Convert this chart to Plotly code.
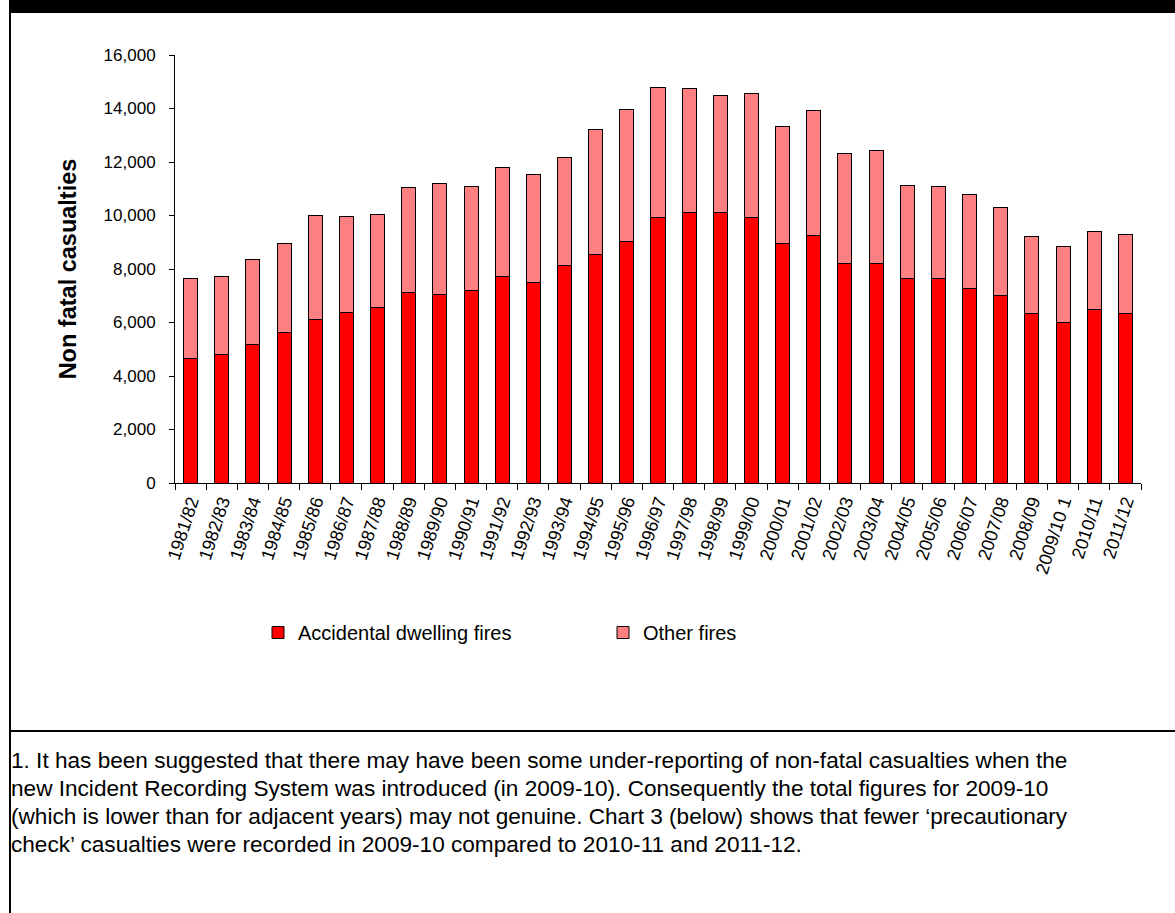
import plotly.graph_objects as go

# Non-fatal casualties by year, split by fire type
years = ["1981/82", "1982/83", "1983/84", "1984/85", "1985/86", "1986/87", "1987/88",
         "1988/89", "1989/90", "1990/91", "1991/92", "1992/93", "1993/94", "1994/95",
         "1995/96", "1996/97", "1997/98", "1998/99", "1999/00", "2000/01", "2001/02",
         "2002/03", "2003/04", "2004/05", "2005/06", "2006/07", "2007/08", "2008/09",
         "2009/10 1", "2010/11", "2011/12"]

accidental_dwelling = [4650, 4800, 5180, 5630, 6110, 6380, 6560, 7120, 7050, 7210, 7720,
                       7510, 8130, 8560, 9020, 9930, 10130, 10130, 9930, 8970, 9270,
                       8220, 8220, 7630, 7630, 7260, 7010, 6340, 6010, 6500, 6340]

other_fires = [3000, 2910, 3160, 3340, 3880, 3570, 3490, 3930, 4160, 3890, 4090,
               4040, 4020, 4670, 4950, 4850, 4600, 4350, 4640, 4340, 4670,
               4090, 4200, 3510, 3470, 3520, 3290, 2880, 2820, 2890, 2950]

footnote_lines = [
    "1. It has been suggested that there may have been some under-reporting of non-fatal casualties when the",
    "new Incident Recording System was introduced (in 2009-10). Consequently the total figures for 2009-10",
    "(which is lower than for adjacent years) may not genuine. Chart 3 (below) shows that fewer \u2018precautionary",
    "check\u2019 casualties were recorded in 2009-10 compared to 2010-11 and 2011-12.",
]

W, H = 1175, 913
L, R, T, B = 175, 1141, 55, 483  # plot area in pixels


def px_x(p):
    return (p - L) / (R - L)


def px_y(p):
    return (B - p) / (B - T)


FONT = "Liberation Sans, Arial, sans-serif"

fig = go.Figure()
fig.add_trace(go.Bar(x=years, y=accidental_dwelling, name="Accidental dwelling fires",
                     marker=dict(color="#FF0000", line=dict(color="#000000", width=1))))
fig.add_trace(go.Bar(x=years, y=other_fires, name="Other fires",
                     marker=dict(color="#FF8080", line=dict(color="#000000", width=1))))

shapes = [
    # black band across the top
    dict(type="rect", xref="paper", yref="paper", x0=px_x(9), x1=px_x(W), y0=px_y(0), y1=px_y(13),
         fillcolor="black", line=dict(width=0), layer="above"),
    # left border of the panel
    dict(type="line", xref="paper", yref="paper", x0=px_x(10), x1=px_x(10), y0=px_y(13), y1=px_y(H),
         line=dict(color="black", width=2)),
    # divider between chart and note
    dict(type="line", xref="paper", yref="paper", x0=px_x(10), x1=px_x(W), y0=px_y(731), y1=px_y(731),
         line=dict(color="black", width=2)),
]

annotations = []
for i, line in enumerate(footnote_lines):
    annotations.append(dict(text=line, xref="paper", yref="paper", x=px_x(9), y=px_y(760 + 28 * i),
                            xanchor="left", yanchor="middle", showarrow=False, align="left",
                            font=dict(family=FONT, size=22.6, color="black")))

fig.update_layout(
    width=W, height=H,
    margin=dict(l=L, r=W - R, t=T, b=H - B, pad=0),
    paper_bgcolor="white", plot_bgcolor="white",
    barmode="stack", bargap=0.55,
    font=dict(family=FONT, size=17, color="black"),
    showlegend=True,
    legend=dict(orientation="h", x=px_x(258), y=px_y(613), xanchor="left", yanchor="top",
                traceorder="normal", font=dict(size=20), entrywidth=300, entrywidthmode="pixels"),
    shapes=shapes,
    annotations=annotations,
)

fig.update_xaxes(type="category", showline=True, linecolor="black", linewidth=1,
                 ticks="outside", tickson="boundaries", ticklen=6, tickcolor="black",
                 tickangle=-72, showgrid=False, tickfont=dict(size=18))
fig.update_yaxes(range=[0, 16000], dtick=2000, tickformat=",", showline=True, linecolor="black",
                 linewidth=1, ticks="outside", ticklen=5, tickcolor="black", showgrid=False,
                 zeroline=False, tickfont=dict(size=17), ticklabelstandoff=10,
                 title=dict(text="<b>Non fatal casualties</b>", font=dict(size=23.5), standoff=20))

fig.write_html("out.html")
